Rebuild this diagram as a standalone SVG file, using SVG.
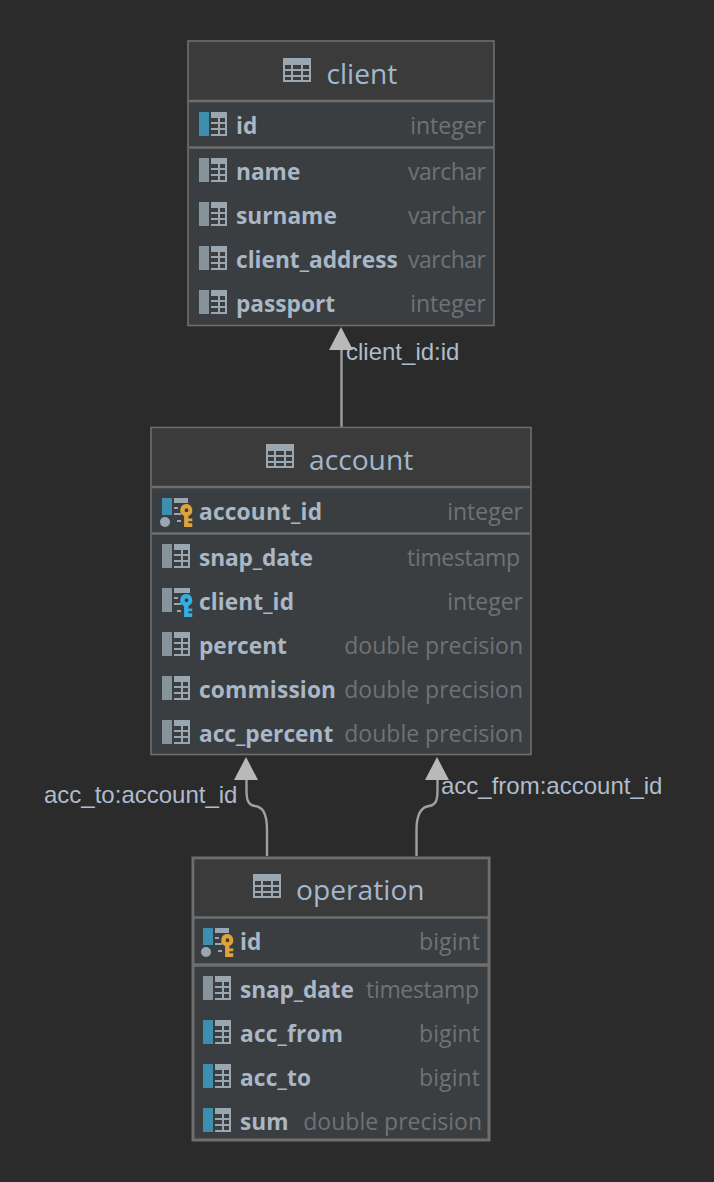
<svg xmlns="http://www.w3.org/2000/svg" width="714" height="1182" viewBox="0 0 714 1182">
<style>
text{font-family:"Open Sans","Noto Sans",sans-serif}
.box{fill:#3b3e41;stroke:#6e6e6e;stroke-width:1.6}
.hd{fill:#3c3b3b}
.sep{stroke:#6e6e6e;stroke-width:2.4;fill:none}
.title{font-size:28.2px;fill:#a3b8cf;text-anchor:start}
.col{font-size:22.7px;font-weight:700;fill:#a9b7c6}
.typ{font-size:23px;fill:#6f7274;text-anchor:end}
.lab{font-family:"Liberation Sans",Arial,sans-serif;font-size:24px;fill:#afbccb}
.conn{fill:none;stroke:#a0a0a0;stroke-width:2.4}
.head{fill:#b9b9b9}
</style>
<defs>
<symbol id="tbl" viewBox="0 0 28 24" width="28" height="24" overflow="visible">
<path fill="#9aa7b0" fill-rule="evenodd" d="M0 0H28V24H0ZM2 7V11H8V7ZM10 7V11H18V7ZM20 7V11H26V7ZM2 13V17H8V13ZM10 13V17H18V13ZM20 13V17H26V13ZM2 19V22H8V19ZM10 19V22H18V19ZM20 19V22H26V19Z"/>
</symbol>
<symbol id="grid" viewBox="0 0 16 24" width="16" height="24" overflow="visible">
<path fill="#9aa7b0" fill-rule="evenodd" d="M0 0H16V24H0ZM0 6V10H7V6ZM9 6V10H14V6ZM0 12V16H7V12ZM9 12V16H14V12ZM0 18V22H7V18ZM9 18V22H14V18Z"/>
</symbol>
<symbol id="cN" viewBox="0 0 28 24" width="28" height="24" overflow="visible">
<rect width="10" height="24" fill="#87939a"/><use href="#grid" x="12" width="16" height="24"/>
</symbol>
<symbol id="cB" viewBox="0 0 28 24" width="28" height="24" overflow="visible">
<rect width="10" height="24" fill="#3d8fb0"/><use href="#grid" x="12" width="16" height="24"/>
</symbol>
<symbol id="pk" viewBox="-2 0 34 30" width="34" height="30" overflow="visible">
<rect x="0" width="10" height="17" fill="#3d8fb0"/>
<circle cx="3" cy="24" r="5" fill="#9aa7b0"/>
<path fill="#9aa7b0" d="M12 0H26V5H12ZM12 9H16V11H12ZM12 15H19V17H12ZM15 22H19V24H15Z"/>
</symbol>
<symbol id="fk" viewBox="-2 0 34 30" width="34" height="30" overflow="visible">
<rect x="0" width="10" height="24" fill="#87939a"/>
<path fill="#9aa7b0" d="M12 0H28V5H12ZM12 9H16V11H12ZM12 15H19V17H12ZM15 22H19V24H15Z"/>
</symbol>
<symbol id="key" viewBox="0 0 13 24" width="13" height="24" overflow="visible">
<path fill-rule="evenodd" d="M6 0A6.500 6.500 0 0 1 8.500 12.500V15H12.500V18H8.500V20H12.500V24H4V12.500A6.500 6.500 0 0 1 6 0ZM6.500 4.500A2 2 0 1 0 6.500 8.500A2 2 0 1 0 6.500 4.500Z"/>
</symbol>
</defs>
<rect width="714" height="1182" fill="#2b2b2b"/>

<g id="connectors">
<path class="conn" d="M341.500 427V348"/>
<polygon class="head" points="341,327 329,350 353,350"/>
<path class="conn" d="M267 856V830C267 812 262 807 255 806C248 805 246.500 800 246.500 790V778"/>
<polygon class="head" points="246,757 234,780 258,780"/>
<path class="conn" d="M416.500 856V830C416.500 812 422 807 429 806C436 805 437.500 800 437.500 790V778"/>
<polygon class="head" points="437,757 425,780 449,780"/>
<text class="lab" x="346" y="360">client_id:id</text>
<text class="lab" x="44" y="803">acc_to:account_id</text>
<text class="lab" x="441" y="794">acc_from:account_id</text>
</g>

<g id="client">
<rect class="box" x="188" y="41" width="306" height="284.500"/>
<rect class="hd" x="189" y="42" width="304" height="58"/>
<path class="sep" d="M189 101H493M189 147.500H493"/>
<use href="#tbl" x="283" y="58" width="28" height="24"/>
<text class="title" x="326.500" y="84">client</text>
<use href="#cB" x="199" y="112" width="28" height="24"/>
<text class="col" x="236" y="134">id</text><text class="typ" x="486" y="134">integer</text>
<use href="#cN" x="199" y="158" width="28" height="24"/>
<text class="col" x="236" y="180">name</text><text class="typ" x="486" y="180" textLength="78">varchar</text>
<use href="#cN" x="199" y="202" width="28" height="24"/>
<text class="col" x="236" y="224">surname</text><text class="typ" x="486" y="224" textLength="78">varchar</text>
<use href="#cN" x="199" y="246" width="28" height="24"/>
<text class="col" x="236" y="268">client_address</text><text class="typ" x="486" y="268" textLength="78">varchar</text>
<use href="#cN" x="199" y="290" width="28" height="24"/>
<text class="col" x="236" y="312">passport</text><text class="typ" x="486" y="312">integer</text>
</g>

<g id="account">
<rect class="box" x="151" y="427.500" width="380" height="327"/>
<rect class="hd" x="152" y="428.500" width="378" height="58"/>
<path class="sep" d="M152 487H530M152 533.500H530"/>
<use href="#tbl" x="266" y="444" width="28" height="24"/>
<text class="title" x="309" y="470">account</text>
<use href="#pk" x="160" y="498" width="34" height="30"/>
<use href="#key" x="180" y="504" width="13" height="23" fill="#e0a33c"/>
<text class="col" x="199" y="520" textLength="123">account_id</text><text class="typ" x="523" y="520">integer</text>
<use href="#cN" x="162" y="544" width="28" height="24"/>
<text class="col" x="199" y="566" textLength="114">snap_date</text><text class="typ" x="520" y="566" textLength="113">timestamp</text>
<use href="#fk" x="160" y="588" width="34" height="30"/>
<use href="#key" x="180" y="594" width="13" height="23" fill="#35aee2"/>
<text class="col" x="199" y="610" textLength="95">client_id</text><text class="typ" x="523" y="610">integer</text>
<use href="#cN" x="162" y="632" width="28" height="24"/>
<text class="col" x="199" y="654">percent</text><text class="typ" x="523" y="654">double precision</text>
<use href="#cN" x="162" y="676" width="28" height="24"/>
<text class="col" x="199" y="698" textLength="137">commission</text><text class="typ" x="523" y="698">double precision</text>
<use href="#cN" x="162" y="720" width="28" height="24"/>
<text class="col" x="199" y="742">acc_percent</text><text class="typ" x="523" y="742">double precision</text>
</g>

<g id="operation">
<rect class="box" x="193" y="858" width="296" height="282" style="stroke-width:3"/>
<rect class="hd" x="194.500" y="859.500" width="293" height="57"/>
<path class="sep" d="M194 917.500H488"/>
<path class="sep" style="stroke-width:3.500" d="M194 965H488"/>
<use href="#tbl" x="253" y="874" width="28" height="24"/>
<text class="title" x="296" y="900">operation</text>
<use href="#pk" x="201" y="928" width="34" height="30"/>
<use href="#key" x="221" y="934" width="13" height="23" fill="#e0a33c"/>
<text class="col" x="240" y="950">id</text><text class="typ" x="480" y="950" textLength="61">bigint</text>
<use href="#cN" x="203" y="976" width="28" height="24"/>
<text class="col" x="240" y="998" textLength="114">snap_date</text><text class="typ" x="479" y="998" textLength="113">timestamp</text>
<use href="#cB" x="203" y="1020" width="28" height="24"/>
<text class="col" x="240" y="1042" textLength="103">acc_from</text><text class="typ" x="480" y="1042" textLength="61">bigint</text>
<use href="#cB" x="203" y="1064" width="28" height="24"/>
<text class="col" x="240" y="1086" textLength="71">acc_to</text><text class="typ" x="480" y="1086" textLength="61">bigint</text>
<use href="#cB" x="203" y="1108" width="28" height="24"/>
<text class="col" x="240" y="1130">sum</text><text class="typ" x="482" y="1130">double precision</text>
</g>
</svg>
